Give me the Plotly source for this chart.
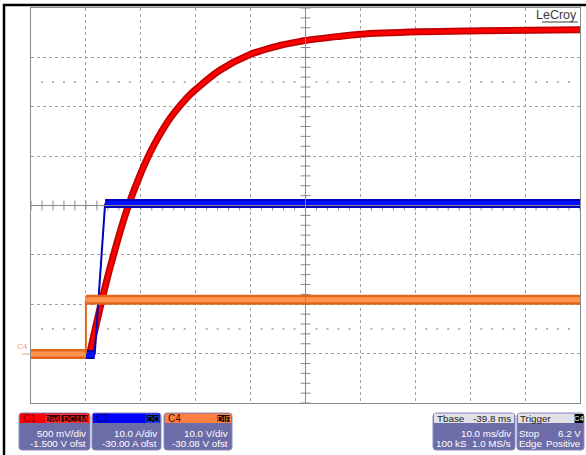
import plotly.graph_objects as go

# ---------------- data (read from the screen) ----------------
# time in ms relative to trigger, 10 ms/div
t_c1 = [-10, 0.7, 2.4, 4.4, 7.5, 9.8, 12.2, 15.3, 18.4, 19.9, 24.4, 29.9, 35.3, 39.9, 45.7, 49.9, 60.8, 71.8, 90]
v_c1 = [0.0, 0.0, 0.42, 0.87, 1.46, 1.80, 2.09, 2.38, 2.59, 2.67, 2.87, 3.03, 3.12, 3.17, 3.21, 3.235, 3.26, 3.27, 3.28]

t_c2 = [-10, 1.6, 3.5, 90]
i_c2 = [-0.2, -0.2, 30.4, 30.4]

t_c4 = [-10, 0.0, 0.0, 90]
v_c4 = [0.0, 0.0, 11.0, 11.0]

trig_level_c4 = 6.2

# channel settings (scale per div, offset)
c1_scale, c1_ofst = 0.5, -1.5
c2_scale, c2_ofst = 10.0, -30.0
c4_scale, c4_ofst = 10.0, -30.08
t_div, t_left = 10.0, -10.0

box_c1 = ["C1", ["BwL", "DC1M"], "500 mV/div", "-1.500 V ofst"]
box_c2 = ["C2", ["DC"], "10.0 A/div", "-30.00 A ofst"]
box_c4 = ["C4", ["DIF"], "10.0 V/div", "-30.08 V ofst"]

W, H = 586, 455
L, R, T, B = 31, 580, 8, 403
FONT = "Liberation Sans, Arial, sans-serif"
FS = 9.8


def X(px):
    return (px - L) / (R - L)


def Y(py):
    return (B - py) / (B - T)


def yr(scale, ofst):
    c = -ofst
    return [c - 4 * scale, c + 4 * scale]


fig = go.Figure()

GRID = "#a2a2a2"
AX = "#8a8a8a"

# graticule ticks on centre cross and dotted rows
x_lo, x_hi = t_left, t_left + 10 * t_div
yl = yr(c1_scale, c1_ofst)
xc = (x_lo + x_hi) / 2
yc = (yl[0] + yl[1]) / 2
fig.add_trace(go.Scatter(
    x=[xc] * 41, y=[yl[0] + k * c1_scale / 5 for k in range(41)], mode="markers",
    marker=dict(symbol="line-ew", size=7, line=dict(width=1, color=AX)),
    hoverinfo="skip", showlegend=False))
fig.add_trace(go.Scatter(
    x=[x_lo + k * t_div / 5 for k in range(51)], y=[yc] * 51, mode="markers",
    marker=dict(symbol="line-ns", size=7, line=dict(width=1, color=AX)),
    hoverinfo="skip", showlegend=False))
dots_x = [x_lo + k * t_div / 5 for k in range(51) if k % 5]
for yy in (yc - 2.5 * c1_scale, yc + 2.5 * c1_scale):
    fig.add_trace(go.Scatter(
        x=dots_x, y=[yy] * len(dots_x), mode="markers",
        marker=dict(symbol="square", size=2, color="#b4b4b4"),
        hoverinfo="skip", showlegend=False))

# C1 red: flat baseline, then smooth rise
for sl, shp in ((slice(0, 2), "linear"), (slice(1, None), "spline")):
    fig.add_trace(go.Scatter(x=t_c1[sl], y=v_c1[sl], mode="lines",
                             line=dict(color="#c00000", width=7, shape=shp, smoothing=1.0),
                             yaxis="y", hoverinfo="skip", showlegend=False))
    fig.add_trace(go.Scatter(x=t_c1[sl], y=v_c1[sl], mode="lines",
                             line=dict(color="#ff0000", width=3.5, shape=shp, smoothing=1.0),
                             yaxis="y", hoverinfo="skip", showlegend=False))

# C2 blue: flat segments thick, edge thin
for sl, wo, wi in ((slice(0, 2), 9, 5), (slice(1, 3), 2, 0), (slice(2, 4), 9, 5)):
    fig.add_trace(go.Scatter(x=t_c2[sl], y=i_c2[sl], mode="lines", line=dict(color="#0000c0", width=wo),
                             yaxis="y2", hoverinfo="skip", showlegend=False))
    if wi:
        fig.add_trace(go.Scatter(x=t_c2[sl], y=i_c2[sl], mode="lines", line=dict(color="#0010ff", width=wi),
                                 yaxis="y2", hoverinfo="skip", showlegend=False))

# C4 orange
for sl, wo, wi in ((slice(0, 2), 10, 5), (slice(1, 3), 2, 0), (slice(2, 4), 10, 5)):
    fig.add_trace(go.Scatter(x=t_c4[sl], y=v_c4[sl], mode="lines", line=dict(color="#e0661c", width=wo),
                             yaxis="y3", hoverinfo="skip", showlegend=False))
    if wi:
        fig.add_trace(go.Scatter(x=t_c4[sl], y=v_c4[sl], mode="lines", line=dict(color="#ff9450", width=wi),
                                 yaxis="y3", hoverinfo="skip", showlegend=False))

# trigger markers
fig.add_trace(go.Scatter(x=[0], y=[yl[0] - 0.045], mode="markers", cliponaxis=False,
                         marker=dict(symbol="triangle-up", size=7, color="#f08a40"),
                         hoverinfo="skip", showlegend=False))
fig.add_trace(go.Scatter(x=[x_hi + 0.75], y=[trig_level_c4], mode="markers", cliponaxis=False, yaxis="y3",
                         marker=dict(symbol="triangle-left", size=7, color="#f08a40"),
                         hoverinfo="skip", showlegend=False))

shapes = []
ann = []

# centre cross
shapes.append(dict(type="line", xref="x", yref="paper", x0=xc, x1=xc, y0=0, y1=1, line=dict(color=AX, width=1)))
shapes.append(dict(type="line", xref="paper", yref="y", x0=0, x1=1, y0=yc, y1=yc, line=dict(color=AX, width=1)))

# outer black border
shapes.append(dict(type="line", xref="paper", yref="paper", x0=X(4), x1=X(4), y0=Y(4), y1=Y(456), line=dict(color="black", width=2.5)))
shapes.append(dict(type="line", xref="paper", yref="paper", x0=X(3), x1=X(587), y0=Y(5), y1=Y(5), line=dict(color="black", width=2.5)))

# LeCroy logo
ann.append(dict(xref="paper", yref="paper", x=X(579), y=Y(15.5), xanchor="right", yanchor="middle",
                text="LeCroy", showarrow=False, font=dict(family=FONT, size=12.5, color="#3c3c3c")))
shapes.append(dict(type="line", xref="paper", yref="paper", x0=X(542), x1=X(578), y0=Y(22), y1=Y(22),
                   line=dict(color="#3c3c3c", width=1), layer="above"))

# ground marker for C4
ann.append(dict(xref="paper", yref="y3", x=X(30), y=0, xanchor="right", yanchor="bottom", yshift=1,
                text="C4", showarrow=False, font=dict(family=FONT, size=8, color="#f0a070")))
shapes.append(dict(type="line", xref="paper", yref="y3", x0=X(22), x1=X(30), y0=0, y1=0,
                   line=dict(color="#f0a070", width=1)))


def rrect(x0, y0, x1, y1, r, fill, line):
    p = (f"M {X(x0 + r)} {Y(y0)} L {X(x1 - r)} {Y(y0)} Q {X(x1)} {Y(y0)} {X(x1)} {Y(y0 + r)} "
         f"L {X(x1)} {Y(y1 - r)} Q {X(x1)} {Y(y1)} {X(x1 - r)} {Y(y1)} "
         f"L {X(x0 + r)} {Y(y1)} Q {X(x0)} {Y(y1)} {X(x0)} {Y(y1 - r)} "
         f"L {X(x0)} {Y(y0 + r)} Q {X(x0)} {Y(y0)} {X(x0 + r)} {Y(y0)} Z")
    return dict(type="path", xref="paper", yref="paper", path=p, fillcolor=fill,
                line=dict(color=line, width=1), layer="above")


BODY = "#6c6ca8"
BODY_LINE = "#8a8ac0"
y_top, y_hdr, y_bot = 413, 423, 450


def txt(x, y, s, anchor, color="white", size=FS, fam=FONT):
    d = dict(xref="paper", yref="paper", x=X(x), y=Y(y), xanchor=anchor, yanchor="middle",
             text=s, showarrow=False, font=dict(family=fam, size=size, color=color))
    ann.append(d)


def chan_box(x0, x1, spec, hdr_col, name_col, tag_col, tag_pos):
    shapes.append(rrect(x0, y_top, x1, y_bot, 3, BODY, BODY_LINE))
    shapes.append(dict(type="rect", xref="paper", yref="paper", x0=X(x0 + 1), x1=X(x1 - 1), y0=Y(y_top + 0.5), y1=Y(y_hdr),
                       fillcolor=hdr_col, line=dict(width=0), layer="above"))
    txt(x0 + 2, 418.5, spec[0], "left", name_col, 10)
    for tag, (a, b) in zip(spec[1], tag_pos):
        shapes.append(dict(type="rect", xref="paper", yref="paper", x0=X(a), x1=X(b), y0=Y(414.5), y1=Y(422.5),
                           fillcolor="#300000" if hdr_col == "#ff0000" else "#000000",
                           line=dict(color=tag_col, width=1), layer="above"))
        txt((a + b) / 2, 418.5, tag, "center", tag_col, 8.5)
    txt(x1 - 2, 433, spec[2], "right")
    txt(x1 - 2, 443, spec[3], "right")


chan_box(19, 90, box_c1, "#ff0000", "#7a0014", "#ff3030", [(46, 61), (61, 88)])
chan_box(92, 161, box_c2, "#0000ff", "#000070", "#2040ff", [(146, 159)])
chan_box(164, 232, box_c4, "#ff8040", "#3a1000", "#ff8040", [(217, 230)])

# timebase / trigger boxes
for x0, x1 in ((433, 515), (517, 584)):
    shapes.append(rrect(x0, y_top, x1, y_bot, 3, BODY, BODY_LINE))
    shapes.append(dict(type="rect", xref="paper", yref="paper", x0=X(x0 + 1), x1=X(x1 - 1), y0=Y(y_top + 0.5), y1=Y(y_hdr),
                       fillcolor="#e2e2e6", line=dict(width=0), layer="above"))
txt(435, 418.5, "Tbase", "left", "#202020")
txt(513, 418.5, "-39.8 ms", "right", "#202020")
txt(513, 433, "10.0 ms/div", "right")
txt(434, 443, "100 kS", "left")
txt(513, 443, "1.0 MS/s", "right")
txt(518, 418.5, "Trigger", "left", "#202020")
shapes.append(dict(type="rect", xref="paper", yref="paper", x0=X(575), x1=X(583), y0=Y(414.5), y1=Y(422.5),
                   fillcolor="#000000", line=dict(color="#000000", width=1), layer="above"))
txt(579, 418.5, "C4", "center", "white", 7.5)
txt(517, 433, "Stop", "left")
txt(583, 433, "6.2 V", "right")
txt(517, 443, "Edge", "left")
txt(583, 443, "Positive", "right")

axis_common = dict(showticklabels=False, ticks="", zeroline=False, showgrid=True, griddash="dot",
                   gridcolor=GRID, gridwidth=1, showline=True, mirror=True, linecolor=AX, linewidth=1)

fig.update_layout(
    width=W, height=H,
    margin=dict(l=L, r=W - R, t=T, b=H - B, pad=0),
    paper_bgcolor="white", plot_bgcolor="white",
    xaxis=dict(range=[x_lo, x_hi], dtick=t_div, tick0=0, **axis_common),
    yaxis=dict(range=yl, dtick=c1_scale, tick0=yl[0], **axis_common),
    yaxis2=dict(range=yr(c2_scale, c2_ofst), overlaying="y", visible=False),
    yaxis3=dict(range=yr(c4_scale, c4_ofst), overlaying="y", visible=False),
    shapes=shapes, annotations=ann, showlegend=False,
)

fig.write_html("out.html", config=dict(displayModeBar=False),
               post_script="document.body.style.margin='0';document.body.style.overflow='hidden';")
